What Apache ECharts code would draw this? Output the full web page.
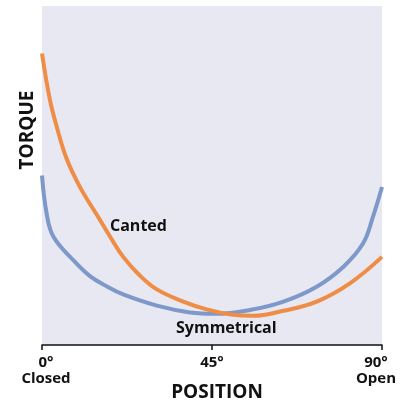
<!DOCTYPE html>
<html><head><meta charset="utf-8">
<script src="https://cdn.jsdelivr.net/npm/echarts@6/dist/echarts.min.js"></script>
<style>html,body{margin:0;padding:0;background:#fff}#c{width:409px;height:402px}</style>
</head><body><div id="c"></div>
<script>
const tickLabels = {0: ['0°', 'Closed'], 45: ['45°'], 90: ['90°', 'Open']};
const cantedX = [0, 2.1, 3.9, 6.5, 10.1, 15.4, 18, 21.5, 25.9, 30.4, 37.4, 43.6, 50, 55.9, 63.9, 72.7, 81.5, 90];
const cantedY = [86, 72.3, 64.4, 55, 46.5, 36.8, 32, 26, 20.5, 16.4, 12.8, 10.5, 9, 8.6, 10.1, 12.8, 18.2, 26];
const symX = [0, 1.2, 3, 8.3, 12.7, 17.1, 21.5, 30.4, 39.2, 46, 55, 63.9, 72.7, 79.8, 85, 87.6, 90];
const symY = [50, 39, 32, 25, 20.3, 17.3, 14.9, 11.6, 9.6, 9.2, 10.3, 12.8, 17.2, 23.1, 30, 37.8, 46.6];
const seriesNames = ['Canted', 'Symmetrical'];

const zip = (xs, ys) => xs.map((x, i) => [x, ys[i]]);
const chart = echarts.init(document.getElementById('c'), null, {renderer: 'canvas'});
const font = '"Open Sans", "Noto Sans", sans-serif';
const styleKey = {0: 'l', 45: 'm', 90: 'r'};
chart.setOption({
  animation: false,
  backgroundColor: '#fff',
  grid: {left: 42, right: 27, top: 6, bottom: 57, show: true, backgroundColor: '#E8E8F2', borderWidth: 0,
         outerBoundsMode: 'none', containLabel: false},
  xAxis: {
    type: 'value', min: 0, max: 90, interval: 45,
    name: 'POSITION', nameLocation: 'middle', nameGap: 38, nameMoveOverlap: false,
    nameTextStyle: {fontFamily: font, fontWeight: 'bold', fontSize: 19, color: '#111', padding: [0, 0, 0, 10]},
    axisLine: {show: true, lineStyle: {color: '#111', width: 1.5}},
    axisTick: {show: true, length: 5, lineStyle: {color: '#111', width: 1.5}},
    splitLine: {show: false},
    axisLabel: {
      margin: 10, fontFamily: font, fontWeight: 'bold', fontSize: 15, color: '#111', lineHeight: 16,
      formatter: v => tickLabels[v] ? '{' + styleKey[v] + '|' + tickLabels[v].join('}\n{' + styleKey[v] + '|') + '}' : '',
      rich: {
        l: {fontFamily: font, fontWeight: 'bold', fontSize: 15, color: '#111', lineHeight: 16, padding: [0, 0, 0, 8]},
        m: {fontFamily: font, fontWeight: 'bold', fontSize: 15, color: '#111', lineHeight: 16},
        r: {fontFamily: font, fontWeight: 'bold', fontSize: 15, color: '#111', lineHeight: 16, padding: [0, 12, 0, 0]}
      }
    }
  },
  yAxis: {
    type: 'value', min: 0, max: 100,
    axisLine: {show: false}, axisTick: {show: false}, axisLabel: {show: false}, splitLine: {show: false}
  },
  series: [
    {name: seriesNames[0], type: 'line', data: zip(cantedX, cantedY), smooth: 0.4, showSymbol: false,
     lineStyle: {color: '#EF8C45', width: 4}, z: 3},
    {name: seriesNames[1], type: 'line', data: zip(symX, symY), smooth: 0.4, showSymbol: false,
     lineStyle: {color: '#7D98C9', width: 4}, z: 2}
  ],
  graphic: [
    {type: 'text', left: 110, top: 218, style: {text: seriesNames[0], font: 'bold 16px ' + font, fill: '#111'}},
    {type: 'text', left: 176, top: 320, style: {text: seriesNames[1], font: 'bold 16px ' + font, fill: '#111'}},
    {type: 'text', x: 28, y: 130, rotation: Math.PI / 2,
     style: {text: 'TORQUE', font: 'bold 19px ' + font, fill: '#111', align: 'center', verticalAlign: 'middle'}}
  ]
});
</script></body></html>
